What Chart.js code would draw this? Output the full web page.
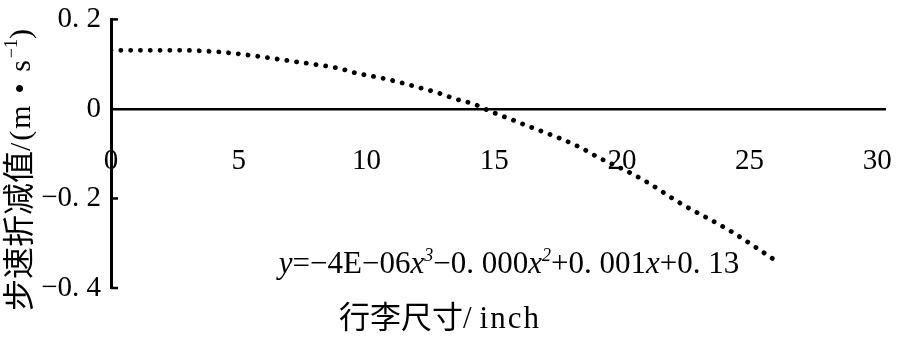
<!DOCTYPE html>
<html><head><meta charset="utf-8">
<script src="https://cdn.jsdelivr.net/npm/chart.js@4/dist/chart.umd.min.js"></script>
<style>html,body{margin:0;padding:0;background:#fff;overflow:hidden;}#wrap{width:909px;height:349px;position:relative;}</style>
</head><body><div id="wrap"><canvas id="c"></canvas></div>
<script>
// Data
const luggageSize = [0, 2.6, 4.3, 5.7, 6.8, 7.9, 8.9, 9.6, 10.6, 11.4, 12.1, 12.8, 13.5, 14.2, 14.8, 15.6, 16.5, 17.5, 18.4, 19.1, 20.3, 21.0, 22.3, 24.2, 26.0];
const speedReduction = [0.131, 0.131, 0.127, 0.118, 0.109, 0.100, 0.091, 0.080, 0.069, 0.058, 0.047, 0.036, 0.022, 0.011, -0.004, -0.022, -0.042, -0.064, -0.087, -0.109, -0.142, -0.164, -0.211, -0.271, -0.338];
const xTicks = [0, 5, 10, 15, 20, 25, 30];
const yTicks = [0.2, 0, -0.2, -0.4];
const xTitleCn = '行李尺寸';
const xTitleSlash = '/';
const xTitleEn = 'inch';
const yTitleCn = '步速折减值';
const yTitleEn = '/(m • s';
const yTitleSup = '−1';
const yTitleEnd = ')';

const SERIF = '"Liberation Serif", "DejaVu Serif", serif';
const CJK = '"Noto Sans CJK SC", sans-serif';

function fmtY(v) {
  const r = Math.round(Math.abs(v) * 10);
  if (r === 0) return '0';
  return (v < 0 ? '−' : '') + '0. ' + r;
}

function drawRuns(ctx, runs, x, y, align) {
  let total = 0;
  runs.forEach(r => { ctx.font = r.font; ctx.letterSpacing = r.ls || '0px'; r.w = ctx.measureText(r.t).width; total += r.w; });
  let cx = align === 'center' ? x - total / 2 : x;
  runs.forEach(r => {
    ctx.font = r.font; ctx.letterSpacing = r.ls || '0px';
    ctx.fillText(r.t, cx, y + (r.dy || 0));
    cx += r.w;
  });
  ctx.letterSpacing = '0px';
}

const decor = {
  id: 'decor',
  afterDraw(chart) {
    const ctx = chart.ctx;
    const ys = chart.scales.y;
    const left = chart.chartArea.left;
    ctx.save();
    ctx.strokeStyle = '#000'; ctx.lineWidth = 2.5;
    yTicks.forEach(v => {
      if (v === 0) return;
      const py = ys.getPixelForValue(v);
      ctx.beginPath(); ctx.moveTo(left, py); ctx.lineTo(left + 7, py); ctx.stroke();
    });
    ctx.fillStyle = '#000';
    ctx.textBaseline = 'alphabetic';
    const ef = 31;
    drawRuns(ctx, [
      {t: 'y', font: 'italic ' + ef + 'px ' + SERIF},
      {t: '=−4E−06', font: ef + 'px ' + SERIF},
      {t: 'x', font: 'italic ' + ef + 'px ' + SERIF},
      {t: '3', font: 'italic 18px ' + SERIF, dy: -12},
      {t: '−0. 000', font: ef + 'px ' + SERIF},
      {t: 'x', font: 'italic ' + ef + 'px ' + SERIF},
      {t: '2', font: 'italic 18px ' + SERIF, dy: -12},
      {t: '+0. 001', font: ef + 'px ' + SERIF},
      {t: 'x', font: 'italic ' + ef + 'px ' + SERIF},
      {t: '+0. 13', font: ef + 'px ' + SERIF}
    ], 509, 273, 'center');
    drawRuns(ctx, [
      {t: xTitleCn, font: '31px ' + CJK},
      {t: xTitleSlash, font: '31px ' + SERIF, ls: '8px'},
      {t: xTitleEn, font: '31px ' + SERIF, ls: '2px'}
    ], 440, 328, 'center');
    ctx.translate(30, 170);
    ctx.rotate(-Math.PI / 2);
    drawRuns(ctx, [
      {t: yTitleCn, font: '32px ' + CJK},
      {t: yTitleEn, font: '30px ' + SERIF, ls: '2px'},
      {t: yTitleSup, font: '18px ' + SERIF, dy: -13},
      {t: yTitleEnd, font: '30px ' + SERIF}
    ], 0, 0, 'center');
    ctx.restore();
  }
};

new Chart(document.getElementById('c'), {
  type: 'line',
  data: {
    datasets: [{
      data: luggageSize.map((x, i) => ({x: x, y: speedReduction[i]})),
      borderColor: '#000',
      borderWidth: 4.8,
      borderDash: [0.1, 9.7],
      borderCapStyle: 'round',
      pointRadius: 0,
      cubicInterpolationMode: 'monotone',
      fill: false
    }]
  },
  options: {
    responsive: true,
    maintainAspectRatio: false,
    animation: false,
    devicePixelRatio: 1,
    layout: {padding: {left: 0, top: 18, right: 24, bottom: 61}},
    plugins: {legend: {display: false}, tooltip: {enabled: false}},
    scales: {
      x: {
        type: 'linear',
        position: {y: 0},
        min: 0, max: 30.3,
        afterBuildTicks: s => { s.ticks = xTicks.map(v => ({value: v})); },
        grid: {display: true, drawOnChartArea: false, drawTicks: true, tickLength: 32, tickColor: 'rgba(0,0,0,0)'},
        border: {display: true, color: '#000', width: 2.5},
        ticks: {color: '#000', font: {family: SERIF, size: 29}, padding: 3, maxRotation: 0, autoSkip: false}
      },
      y: {
        type: 'linear',
        min: -0.4, max: 0.2,
        afterBuildTicks: s => { s.ticks = yTicks.map(v => ({value: v})); },
        afterFit: s => { s.width = 111; },
        grid: {display: false},
        border: {display: true, color: '#000', width: 3},
        ticks: {color: '#000', font: {family: SERIF, size: 29}, padding: 2, callback: v => fmtY(v)}
      }
    }
  },
  plugins: [decor]
});
</script></body></html>
